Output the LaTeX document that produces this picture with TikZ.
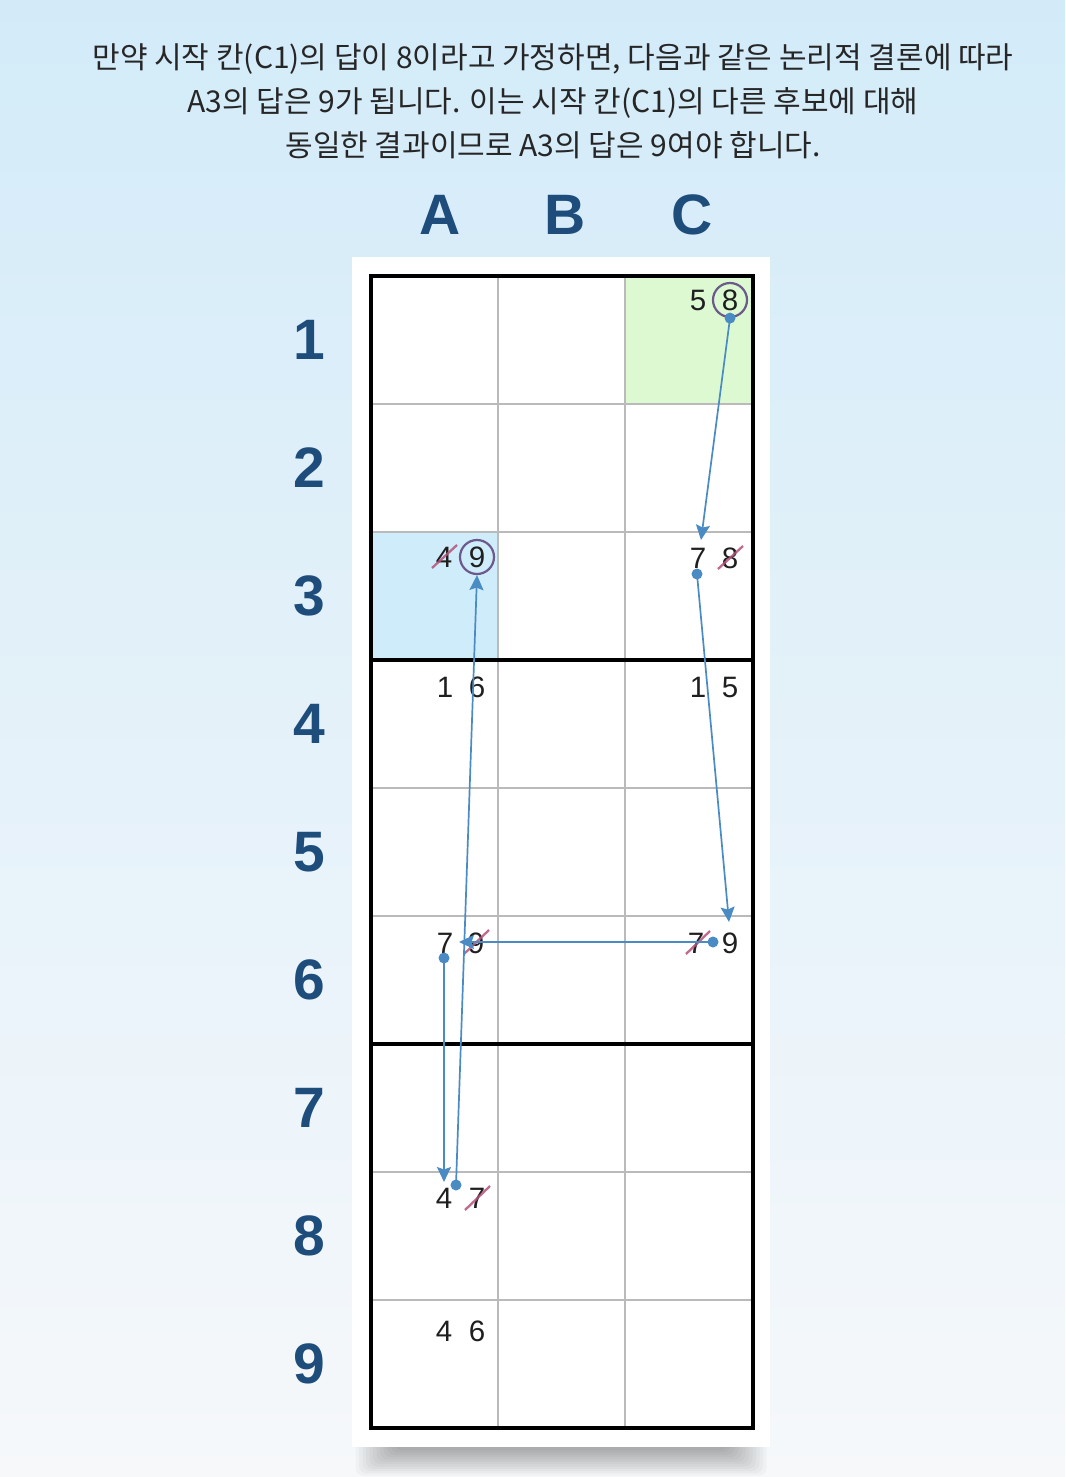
\documentclass[tikz,border=0pt]{standalone}
\usepackage{fontspec}
\setmainfont{Liberation Sans}
\newfontfamily\krfont{Noto Sans CJK KR}
\usetikzlibrary{arrows.meta}

\definecolor{labelblue}{HTML}{1E4D7B}
\definecolor{linkblue}{HTML}{4A8BC4}
\definecolor{ringpurple}{HTML}{6D5A8C}
\definecolor{strikered}{HTML}{B5527A}
\definecolor{startgreen}{HTML}{DCF9D2}
\definecolor{targetblue}{HTML}{CFECFB}
\definecolor{gridgray}{HTML}{BABABA}
\definecolor{bgtop}{HTML}{D3EBF9}
\definecolor{bgmid}{HTML}{E4F1FA}
\definecolor{bgbottom}{HTML}{F6F8FA}

\tikzset{
  axislabel/.style={text=labelblue, inner sep=0, font=\fontsize{57}{57}\selectfont\bfseries},
  cand/.style={text=black!88, inner sep=0, font=\fontsize{29.5}{29.5}\selectfont},
  ring/.style={circle, draw=ringpurple, line width=2.2pt, minimum size=34pt},
  dot/.style={circle, fill=linkblue, inner sep=0, minimum size=11pt},
  link/.style={draw=linkblue, line width=1.7pt, -{Stealth[length=15pt,width=14pt,inset=2.5pt]}},
  strike/.style={draw=strikered, line width=2.3pt, opacity=0.85},
  gridline/.style={draw=gridgray, line width=2pt},
  boxline/.style={draw=black, line width=4.5pt}
}

\begin{document}
\begin{tikzpicture}[x=1pt,y=-1pt]
        \useasboundingbox (0,0) rectangle (1065,1477);
        \shade[top color=bgtop, middle color=bgmid, bottom color=bgbottom] (0,0) rectangle (1065,1477);

        \node[align=center, text=black!85, font=\krfont\fontsize{30}{44}\selectfont] (intro) at (553,101)
            {만약 시작 칸(C1)의 답이 8이라고 가정하면, 다음과 같은 논리적 결론에 따라\\
             A3의 답은 9가 됩니다. 이는 시작 칸(C1)의 다른 후보에 대해\\
             동일한 결과이므로 A3의 답은 9여야 합니다.};

        \node[axislabel] (colA) at (440,215) {A};
        \node[axislabel] (colB) at (565,215) {B};
        \node[axislabel] (colC) at (692,215) {C};
        \foreach \r in {1,...,9}
            \node[axislabel] (row\r) at (309,{340+128*(\r-1)}) {\r};

        % panel and shadow
        \foreach \i in {1,...,12}
            \fill[black,opacity=0.028,rounded corners=8pt] ({352+3.5*\i},1440) rectangle ({770-3.5*\i},{1478-2.3*\i});
        \fill[white] (352,257) rectangle (770,1447);

        \fill[startgreen] (625,276) rectangle (753,404);
        \fill[targetblue] (371,532) rectangle (498,660);

        \foreach \x in {498,625}
            \draw[gridline] (\x,276) -- (\x,1428);
        \foreach \y in {404,532,788,916,1172,1300}
            \draw[gridline] (371,\y) -- (753,\y);
        \draw[boxline] (371,660) -- (753,660);
        \draw[boxline] (371,1044) -- (753,1044);
        \draw[boxline] (371,276) rectangle (753,1428);

        \node[cand] (C1l) at (698,300) {5};
        \node[cand,ring] (C1r) at (730,300) {8};

        \node[cand] (A3l) at (444,557) {4};
        \node[cand,ring] (A3r) at (477,557) {9};
        \draw[strike] (432,568) -- (457,545);

        \node[cand] (C3l) at (698,558) {7};
        \node[cand] (C3r) at (730,558) {8};
        \draw[strike] (718,569) -- (743,546);

        \node[cand] (A4l) at (445,687) {1};
        \node[cand] (A4r) at (477,687) {6};
        \node[cand] (C4l) at (698,687) {1};
        \node[cand] (C4r) at (730,687) {5};

        \node[cand] (A6l) at (445,943) {7};
        \node[cand] (A6r) at (476,943) {9};
        \draw[strike] (464,954) -- (489,930);

        \node[cand] (C6l) at (696,943) {7};
        \node[cand] (C6r) at (730,943) {9};
        \draw[strike] (686,954) -- (710,931);

        \node[cand] (A8l) at (444,1198) {4};
        \node[cand] (A8r) at (477,1198) {7};
        \draw[strike] (465,1210) -- (490,1186);

        \node[cand] (A9l) at (444,1331) {4};
        \node[cand] (A9r) at (477,1331) {6};

        % chain of deductions
        \node[dot] (C1d) at (C1r.south) {};
        \node[dot] (C3d) at (697,574) {};
        \node[dot] (C6d) at (713,942) {};
        \node[dot] (A6d) at (444,958) {};
        \node[dot] (A8d) at (456,1185) {};

        \coordinate (C3t) at (701,540);
        \coordinate (C6t) at (729,922);
        \coordinate (A6t) at (459,942);
        \coordinate (A8t) at (444,1182);

        \draw[link] (C1d.center) -- (C3t);
        \draw[link] (C3d.center) -- (C6t);
        \draw[link] (C6d.center) -- (A6t);
        \draw[link] (A6d.center) -- (A8t);
        \draw[link] (A8d.center) -- (A3r.south);
\end{tikzpicture}
\end{document}
